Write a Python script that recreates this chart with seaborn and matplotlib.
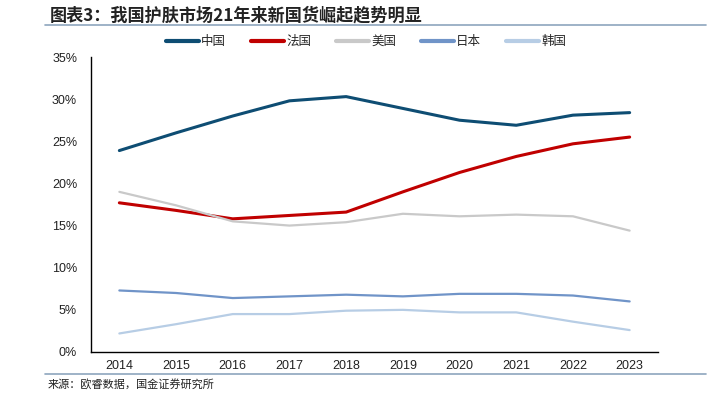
import numpy as np
import pandas as pd
import seaborn as sns
import matplotlib.pyplot as plt
from matplotlib.lines import Line2D
from matplotlib.ticker import FixedLocator, PercentFormatter

# 数据（从原图读取，单位：%）
years = [2014, 2015, 2016, 2017, 2018, 2019, 2020, 2021, 2022, 2023]
china = [23.9, 26.0, 28.0, 29.8, 30.3, 28.9, 27.5, 26.9, 28.1, 28.4]
france = [17.7, 16.8, 15.8, 16.2, 16.6, 19.0, 21.3, 23.2, 24.7, 25.5]
usa = [19.0, 17.4, 15.5, 15.0, 15.4, 16.4, 16.1, 16.3, 16.1, 14.4]
japan = [7.3, 7.0, 6.4, 6.6, 6.8, 6.6, 6.9, 6.9, 6.7, 6.0]
korea = [2.2, 3.3, 4.5, 4.5, 4.9, 5.0, 4.7, 4.7, 3.6, 2.6]

series_names = ['中国', '法国', '美国', '日本', '韩国']
colors = ['#0e4d73', '#c00000', '#c9c9c9', '#7094c8', '#b7cde5']
widths = [2.2, 2.2, 1.6, 1.6, 1.6]

df = pd.DataFrame({'年份': years, '中国': china, '法国': france,
                   '美国': usa, '日本': japan, '韩国': korea})
df_long = df.melt(id_vars='年份', var_name='国家', value_name='占比')

sns.set_style('white')
plt.rcParams['font.family'] = ['Liberation Sans', 'Noto Sans CJK SC', 'DejaVu Sans']
plt.rcParams['axes.unicode_minus'] = False

fig = plt.figure(figsize=(7.11, 3.99), dpi=100)
ax = fig.add_axes([91 / 711, 1 - 352 / 399, (658 - 91) / 711, (352 - 57) / 399])

for name, c, lw in zip(series_names, colors, widths):
    sub = df_long[df_long['国家'] == name]
    sns.lineplot(data=sub, x='年份', y='占比', color=c, linewidth=lw, ax=ax,
                 legend=False)

ax.set_xlim(years[0] - 0.5, years[-1] + 0.5)
ax.set_ylim(0, 35)
ax.set_yticks(np.arange(0, 36, 5))
ax.yaxis.set_major_formatter(PercentFormatter(decimals=0))
ax.set_xticks(years)
ax.set_xticklabels([str(y) for y in years])
ax.xaxis.set_minor_locator(FixedLocator([y + 0.5 for y in [years[0] - 1] + years]))
ax.tick_params(axis='x', which='major', length=0, labelsize=9, pad=6, colors='#222222')
ax.tick_params(axis='x', which='minor', direction='in', length=3, width=0.8, color='black')
ax.tick_params(axis='y', direction='in', length=3, width=0.8, labelsize=9, pad=10,
               colors='black', labelcolor='#222222')
ax.set_xlabel('')
ax.set_ylabel('')
for s in ['top', 'right']:
    ax.spines[s].set_visible(False)
for s in ['left', 'bottom']:
    ax.spines[s].set_color('black')
    ax.spines[s].set_linewidth(1.0)

# 图例
handles = [Line2D([0], [0], color=c, lw=3) for c in colors]
fig.legend(handles, series_names, loc='center', bbox_to_anchor=(366 / 711, 1 - 42 / 399),
           ncol=5, frameon=False, fontsize=9, handlelength=2.6, handletextpad=0.2,
           columnspacing=2.0)

# 标题和来源
fig.text(50 / 711, 1 - 15 / 399, '图表3：我国护肤市场21年来新国货崛起趋势明显',
         fontsize=12.3, fontweight='bold', va='center', ha='left', color='#222222',
         family=['Noto Sans CJK SC', 'DejaVu Sans'])
fig.add_artist(Line2D([45 / 711, 706 / 711], [1 - 25 / 399, 1 - 25 / 399],
                      color='#8ea5bd', lw=1.2))
fig.add_artist(Line2D([45 / 711, 706 / 711], [1 - 374 / 399, 1 - 374 / 399],
                      color='#8ea5bd', lw=1.2))
fig.text(48 / 711, 1 - 385 / 399, '来源：欧睿数据，国金证券研究所', fontsize=8,
         va='center', ha='left', color='#222222',
         family=['Noto Sans CJK SC', 'DejaVu Sans'])

plt.savefig('out.png', dpi=100)
